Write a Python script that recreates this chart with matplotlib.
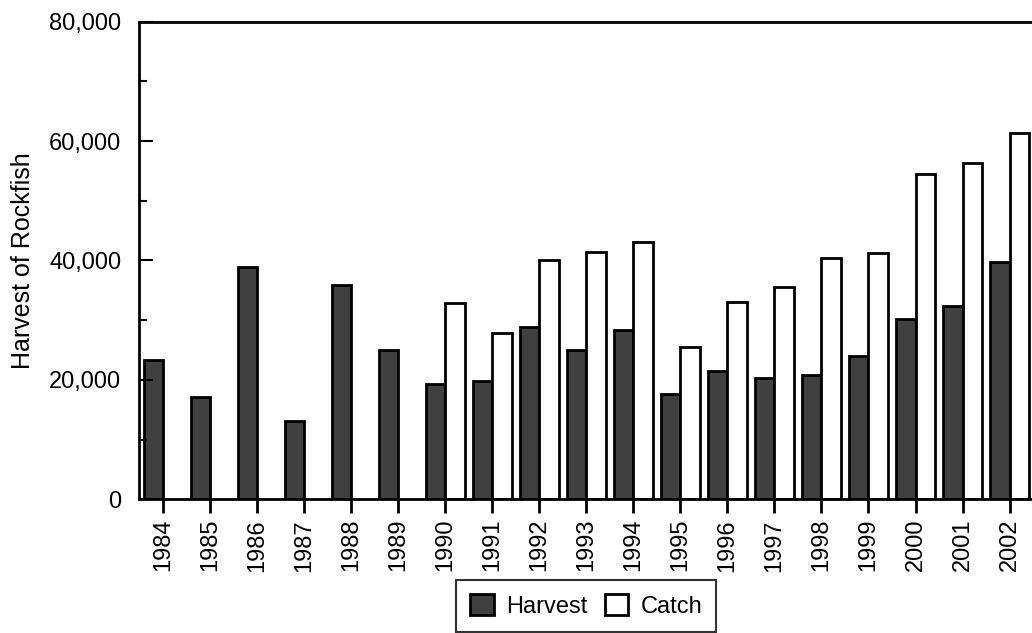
import numpy as np
import matplotlib.pyplot as plt
from matplotlib.ticker import MultipleLocator, FuncFormatter

plt.rcParams['font.family'] = ['Liberation Sans', 'DejaVu Sans']

years = ["1984", "1985", "1986", "1987", "1988", "1989", "1990", "1991", "1992", "1993",
         "1994", "1995", "1996", "1997", "1998", "1999", "2000", "2001", "2002"]
harvest = [23300, 17200, 38900, 13100, 35900, 25000, 19300, 19900, 28900, 25000,
           28400, 17600, 21500, 20400, 20800, 24000, 30200, 32400, 39800]
catch = [0, 0, 0, 0, 0, 0, 32900, 27800, 40100, 41400,
         43100, 25600, 33000, 35500, 40400, 41300, 54500, 56400, 61300]

fig = plt.figure(figsize=(10.32, 6.33), dpi=100)
ax = fig.add_axes([0.135, 0.211, 0.866, 0.755])

x = np.arange(len(years))
w = 0.42
# harvest sits left of the tick, catch to the right
ax.bar(x, harvest, width=-w, align='edge', color='#404040', edgecolor='black',
       linewidth=2, label='Harvest')
catch_vals = np.array(catch, dtype=float)
catch_vals[catch_vals == 0] = np.nan
ax.bar(x, catch_vals, width=w, align='edge', color='white', edgecolor='black',
       linewidth=2, label='Catch')

ax.set_xlim(-0.51, len(years) - 0.5)
ax.set_ylim(0, 80000)
ax.set_xticks(x)
ax.set_xticklabels(years, rotation=90, fontsize=17)
ax.yaxis.set_major_locator(MultipleLocator(20000))
ax.yaxis.set_minor_locator(MultipleLocator(10000))
ax.yaxis.set_major_formatter(FuncFormatter(lambda v, p: f"{int(v):,}"))

ax.tick_params(axis='y', which='major', direction='in', length=10, width=1.5,
               labelsize=17, pad=13)
ax.tick_params(axis='y', which='minor', direction='in', length=6, width=1.5)
ax.tick_params(axis='x', which='major', direction='out', length=10, width=2, pad=4)

for s in ax.spines.values():
    s.set_linewidth(2)

ax.set_ylabel("Harvest of Rockfish", fontsize=18, labelpad=10)

fig.legend(loc='lower center', bbox_to_anchor=(0.568, 0.0), ncol=2, fontsize=17,
           frameon=True, fancybox=False, edgecolor='black', handlelength=1.0,
           handleheight=1.0, handletextpad=0.5, columnspacing=0.75,
           borderpad=0.6, borderaxespad=0.05)
fig.legends[0].get_frame().set_linewidth(1.5)

fig.savefig("out.png", dpi=100)
